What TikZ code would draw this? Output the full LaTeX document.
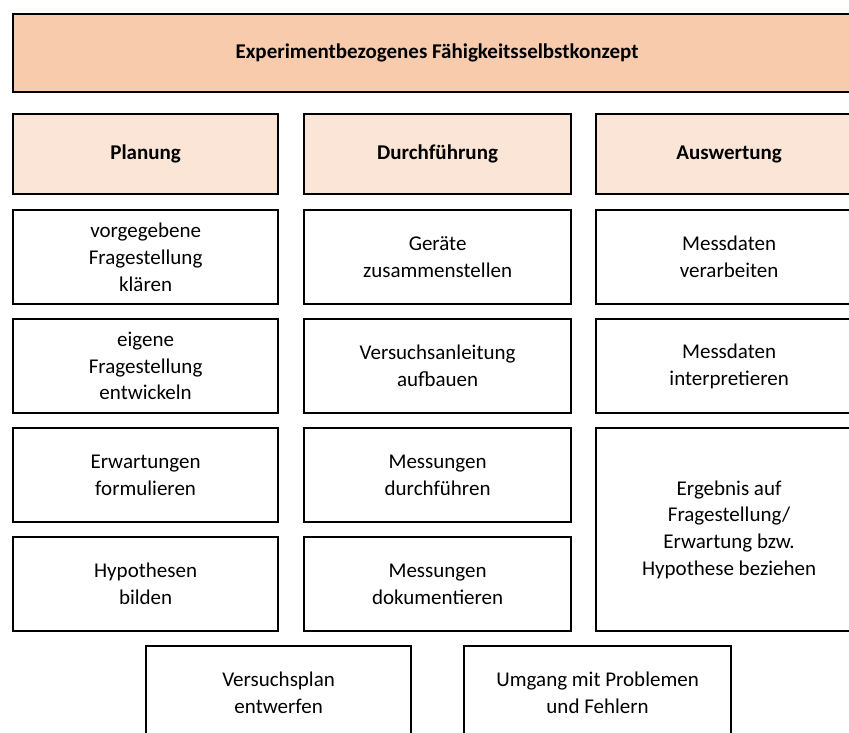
\documentclass[tikz,border=0pt]{standalone}
\usepackage{fontspec}
\setmainfont{Carlito}
\definecolor{headdark}{HTML}{F8CBAD}
\definecolor{headlight}{HTML}{FBE5D6}
\tikzset{
  cell/.style={draw=black, line width=2.2pt, fill=white, anchor=north west,
    inner sep=0pt, align=center, text=black,
    font=\fontsize{21}{26.7}\selectfont},
  titlecell/.style={cell, fill=headdark, font=\bfseries\fontsize{21}{26.7}\selectfont},
  phasecell/.style={cell, fill=headlight, font=\bfseries\fontsize{21}{26.7}\selectfont},
}
\begin{document}
\begin{tikzpicture}[x=1pt, y=-1pt]
  \useasboundingbox (0,0) rectangle (849,733);
  \clip (0,0) rectangle (849,733);

  % overall concept
  \node[titlecell, minimum width=848, minimum height=78] (concept) at (12,13)
    {Experimentbezogenes Fähigkeitsselbstkonzept};

  % phases
  \node[phasecell, minimum width=265, minimum height=80] (plan) at (12,113) {Planung};
  \node[phasecell, minimum width=267, minimum height=80] (durch) at (303,113) {Durchführung};
  \node[phasecell, minimum width=266, minimum height=80] (ausw) at (595,113) {Auswertung};

  % Planung column
  \node[cell, minimum width=265, minimum height=94] (p1) at (12,209)
    {vorgegebene\\Fragestellung\\klären};
  \node[cell, minimum width=265, minimum height=94] (p2) at (12,318)
    {eigene\\Fragestellung\\entwickeln};
  \node[cell, minimum width=265, minimum height=94] (p3) at (12,427)
    {Erwartungen\\formulieren};
  \node[cell, minimum width=265, minimum height=94] (p4) at (12,536)
    {Hypothesen\\bilden};

  % Durchführung column
  \node[cell, minimum width=267, minimum height=94] (d1) at (303,209)
    {Geräte\\zusammenstellen};
  \node[cell, minimum width=267, minimum height=94] (d2) at (303,318)
    {Versuchsanleitung\\aufbauen};
  \node[cell, minimum width=267, minimum height=94] (d3) at (303,427)
    {Messungen\\durchführen};
  \node[cell, minimum width=267, minimum height=94] (d4) at (303,536)
    {Messungen\\dokumentieren};

  % Auswertung column
  \node[cell, minimum width=266, minimum height=94] (a1) at (595,209)
    {Messdaten\\verarbeiten};
  \node[cell, minimum width=266, minimum height=94] (a2) at (595,318)
    {Messdaten\\interpretieren};
  \node[cell, minimum width=266, minimum height=203] (a3) at (595,427)
    {Ergebnis auf\\Fragestellung/\\Erwartung bzw.\\Hypothese beziehen};

  % cross-phase aspects
  \node[cell, minimum width=265, minimum height=94] (x1) at (145,645)
    {Versuchsplan\\entwerfen};
  \node[cell, minimum width=267, minimum height=94] (x2) at (463,645)
    {Umgang mit Problemen\\und Fehlern};
\end{tikzpicture}
\end{document}
